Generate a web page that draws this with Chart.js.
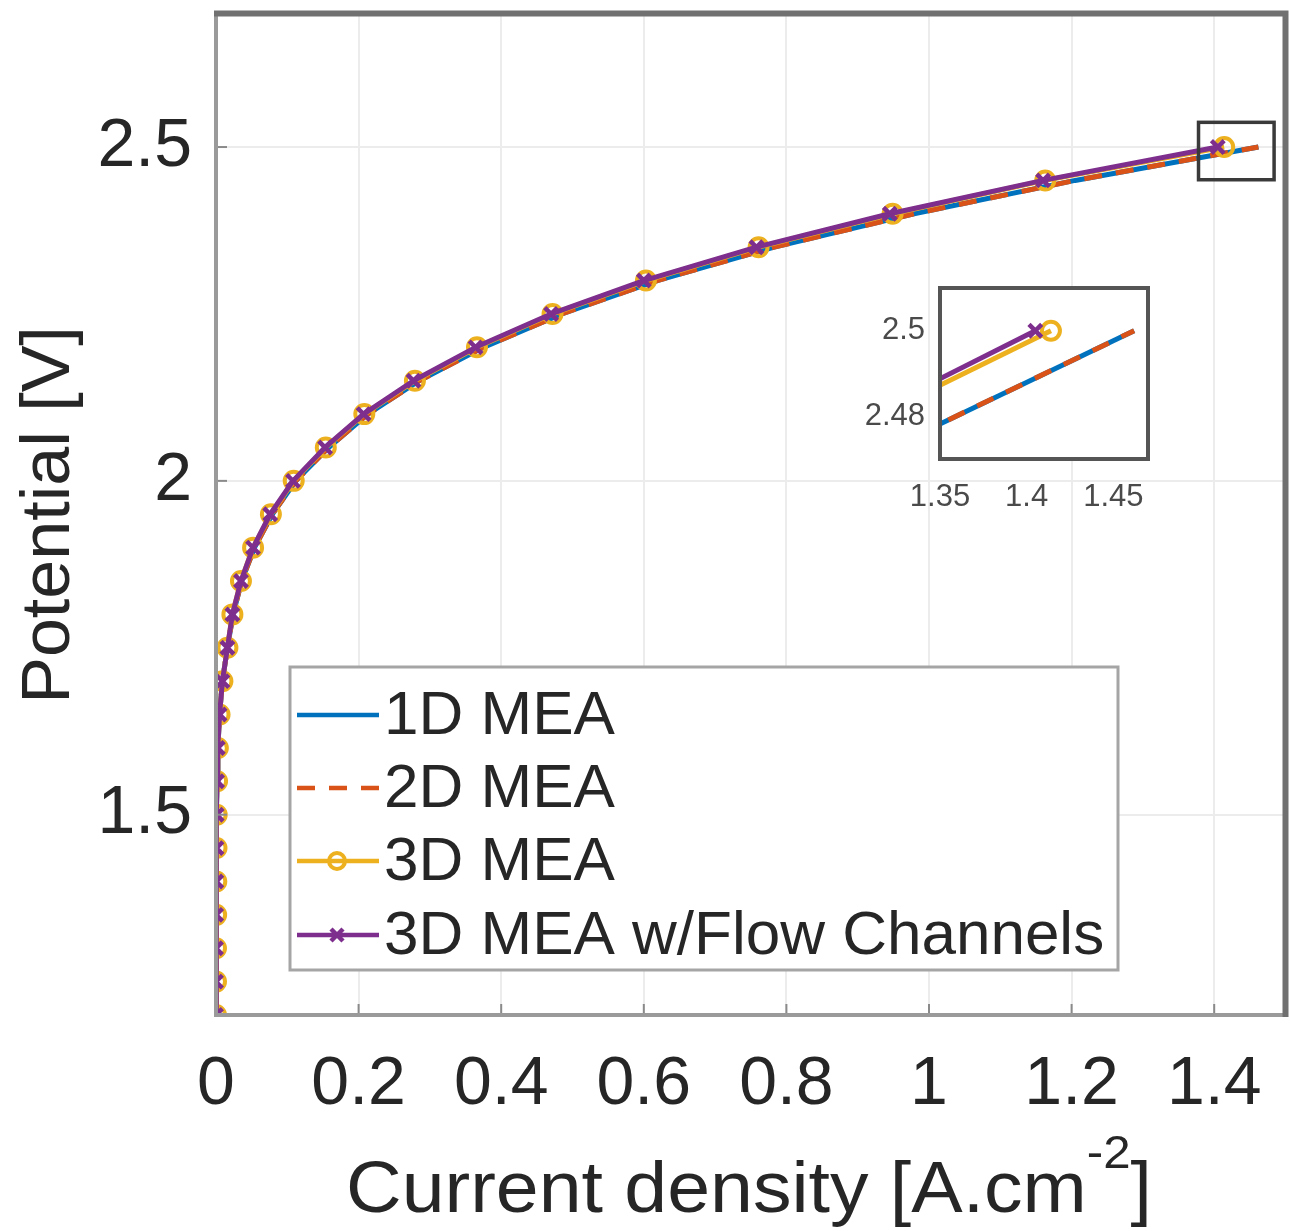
<!DOCTYPE html>
<html><head><meta charset="utf-8">
<script src="https://cdn.jsdelivr.net/npm/chart.js@4.4.0/dist/chart.umd.min.js"></script>
<style>
html,body{margin:0;padding:0;background:#fff;}
#wrap{position:relative;width:1290px;height:1231px;overflow:hidden;}
#main{position:absolute;left:0;top:0;}
#inset{position:absolute;left:830px;top:270px;}
</style></head><body>
<div id="wrap"><canvas id="main" width="1299" height="1231"></canvas><canvas id="inset" width="340" height="250"></canvas></div>
<script>
// ---------- data ----------
const potential = [1.20,1.25,1.30,1.35,1.40,1.45,1.50,1.55,1.60,1.65,1.70,1.75,1.80,1.85,1.90,1.95,2.00,2.05,2.10,2.15,2.20,2.25,2.30,2.35,2.40,2.45,2.50];
const j1D     = [0,0,0,0.0002,0.0004,0.0007,0.001,0.0016,0.0027,0.005,0.009,0.016,0.024,0.036,0.054,0.079,0.112,0.158,0.213,0.285,0.375,0.485,0.619,0.783,0.979,1.205,1.462];
const j2D     = [0,0,0,0.0002,0.0004,0.0007,0.001,0.0016,0.0027,0.005,0.009,0.016,0.024,0.036,0.054,0.079,0.112,0.158,0.213,0.285,0.375,0.485,0.619,0.783,0.979,1.205,1.462];
const j3D     = [0,0,0,0.0002,0.0004,0.0007,0.001,0.0015,0.0026,0.005,0.009,0.016,0.023,0.035,0.052,0.077,0.109,0.154,0.208,0.279,0.366,0.472,0.603,0.761,0.949,1.163,1.414];
const j3DFlow = [0,0,0,0.0002,0.0004,0.0007,0.001,0.0015,0.0025,0.005,0.009,0.016,0.023,0.035,0.052,0.076,0.108,0.153,0.207,0.277,0.364,0.470,0.600,0.758,0.945,1.160,1.405];
const seriesNames = ['1D MEA','2D MEA','3D MEA','3D MEA w/Flow Channels'];

const xTicks = [0,0.2,0.4,0.6,0.8,1,1.2,1.4];
const xTickLabels = ['0','0.2','0.4','0.6','0.8','1','1.2','1.4'];
const yTicks = [1.5,2,2.5];
const yTickLabels = ['1.5','2','2.5'];
const xRange = [0,1.5];
const yRange = [1.2,2.7];

const insetXTicks = [1.35,1.4,1.45];
const insetXTickLabels = ['1.35','1.4','1.45'];
const insetYTicks = [2.48,2.5];
const insetYTickLabels = ['2.48','2.5'];
const insetXRange = [1.35,1.47];
const insetYRange = [2.47,2.51];

const zoomBoxX = [1.378,1.484];
const zoomBoxY = [2.451,2.537];

// ---------- styling ----------
const FONT = "'Liberation Sans', Arial, Helvetica, sans-serif";
const TXT = '#262626';
const C1 = '#0072BD', C2 = '#D95319', C3 = '#EDB120', C4 = '#7E2F8E';

function pts(ys){ return potential.map((v,i)=>({x:ys[i], y:v})); }

function makeDatasets(){
  return [
    {label:seriesNames[0], data:pts(j1D), borderColor:C1, backgroundColor:C1, borderWidth:5, pointRadius:0, order:4, tension:0},
    {label:seriesNames[1], data:pts(j2D), borderColor:C2, backgroundColor:C2, borderWidth:5, borderDash:[18,14], pointRadius:0, order:3, tension:0},
    {label:seriesNames[2], data:pts(j3D), borderColor:C3, backgroundColor:'rgba(0,0,0,0)', borderWidth:5, pointStyle:'circle', pointRadius:9, pointBorderWidth:4, pointBorderColor:C3, pointBackgroundColor:'rgba(0,0,0,0)', order:2, tension:0},
    {label:seriesNames[3], data:pts(j3DFlow), borderColor:C4, backgroundColor:C4, borderWidth:5, pointStyle:'crossRot', pointRadius:9, pointBorderWidth:4.5, pointBorderColor:C4, order:1, tension:0}
  ];
}

const mainDecor = {
  id:'mainDecor',
  beforeDraw(chart){
    const ctx = chart.ctx;
    ctx.save(); ctx.fillStyle='#fff'; ctx.fillRect(0,0,chart.width,chart.height); ctx.restore();
  },
  afterDraw(chart){
    const ctx = chart.ctx, a = chart.chartArea;
    const xs = chart.scales.x, ys = chart.scales.y;
    ctx.save();
    // inward tick marks
    ctx.strokeStyle='#8a8a8a'; ctx.lineWidth=2;
    xTicks.forEach(v=>{ const px=xs.getPixelForValue(v); ctx.beginPath(); ctx.moveTo(px,a.bottom); ctx.lineTo(px,a.bottom-11); ctx.stroke(); });
    yTicks.forEach(v=>{ const py=ys.getPixelForValue(v); ctx.beginPath(); ctx.moveTo(a.left,py); ctx.lineTo(a.left+11,py); ctx.stroke(); });
    // axes frame
    ctx.lineCap='butt';
    ctx.strokeStyle='#9a9a9a'; ctx.lineWidth=4;
    ctx.beginPath(); ctx.moveTo(a.left,a.top); ctx.lineTo(a.left,a.bottom); ctx.lineTo(a.right,a.bottom); ctx.stroke();
    ctx.strokeStyle='#707070'; ctx.lineWidth=6;
    ctx.beginPath(); ctx.moveTo(a.left-2,a.top); ctx.lineTo(a.right,a.top); ctx.lineTo(a.right,a.bottom+2); ctx.stroke();
    // zoom box
    const bx0=xs.getPixelForValue(zoomBoxX[0]), bx1=xs.getPixelForValue(zoomBoxX[1]);
    const by0=ys.getPixelForValue(zoomBoxY[1]), by1=ys.getPixelForValue(zoomBoxY[0]);
    ctx.strokeStyle='#3a3a3a'; ctx.lineWidth=3.5;
    ctx.strokeRect(bx0,by0,bx1-bx0,by1-by0);
    // legend
    const L={x:290,y:667,w:828,h:303};
    ctx.fillStyle='#fff'; ctx.fillRect(L.x,L.y,L.w,L.h);
    ctx.strokeStyle='#a5a5a5'; ctx.lineWidth=3; ctx.strokeRect(L.x,L.y,L.w,L.h);
    const rows=[715,788,861,935];
    const ds=chart.data.datasets;
    rows.forEach((ry,i)=>{
      const d=ds[i];
      ctx.strokeStyle=d.borderColor; ctx.lineWidth=4.5;
      ctx.setLineDash(d.borderDash||[]);
      ctx.beginPath(); ctx.moveTo(297,ry); ctx.lineTo(379,ry); ctx.stroke();
      ctx.setLineDash([]);
      const mx=337;
      if(d.pointStyle==='circle'){ ctx.lineWidth=4; ctx.beginPath(); ctx.arc(mx,ry,8,0,Math.PI*2); ctx.stroke(); }
      if(d.pointStyle==='crossRot'){ ctx.lineWidth=4.5; ctx.beginPath(); ctx.moveTo(mx-6,ry-6); ctx.lineTo(mx+6,ry+6); ctx.moveTo(mx+6,ry-6); ctx.lineTo(mx-6,ry+6); ctx.stroke(); }
      ctx.fillStyle=TXT; ctx.font='62px '+FONT; ctx.textBaseline='middle'; ctx.textAlign='left';
      ctx.fillText(seriesNames[i],384,ry+2);
    });
    // axis titles
    ctx.fillStyle=TXT;
    ctx.save();
    ctx.translate(50,515); ctx.rotate(-Math.PI/2); ctx.scale(1.03,1);
    ctx.font='68px '+FONT; ctx.textAlign='center'; ctx.textBaseline='middle';
    ctx.fillText('Potential [V]',0,0);
    ctx.restore();
    ctx.save();
    const sxScale=1.07, cx=749;
    ctx.translate(cx,0); ctx.scale(sxScale,1);
    ctx.font='72px '+FONT; ctx.textBaseline='alphabetic'; ctx.textAlign='left';
    const t1='Current density [A.cm', t2='-2', t3=']';
    const w1=ctx.measureText(t1).width;
    ctx.font='46px '+FONT; const w2=ctx.measureText(t2).width;
    ctx.font='72px '+FONT; const w3=ctx.measureText(t3).width;
    let sx=-(w1+w2+w3)/2; const base=1212;
    ctx.fillText(t1,sx,base);
    ctx.font='46px '+FONT; ctx.fillText(t2,sx+w1,base-44);
    ctx.font='72px '+FONT; ctx.fillText(t3,sx+w1+w2,base);
    ctx.restore();
    ctx.restore();
  }
};

new Chart(document.getElementById('main'),{
  type:'line',
  data:{datasets:makeDatasets()},
  options:{
    responsive:false, animation:false, devicePixelRatio:1,
    layout:{padding:{top:13,right:0,left:0,bottom:0}},
    plugins:{legend:{display:false},tooltip:{enabled:false}},
    elements:{line:{borderCapStyle:'butt',borderJoinStyle:'round'}},
    scales:{
      x:{type:'linear',min:xRange[0],max:xRange[1],
        afterFit(s){s.height=216; s.paddingLeft=0; s.paddingRight=0;},
        afterBuildTicks(s){s.ticks=xTicks.map(v=>({value:v}));},
        ticks:{callback:(v,i)=>xTickLabels[i],font:{family:FONT,size:68},color:TXT,padding:29,maxRotation:0,autoSkip:false},
        grid:{color:'#ececec',lineWidth:2,drawTicks:false},
        border:{display:false}},
      y:{type:'linear',min:yRange[0],max:yRange[1],
        afterFit(s){s.width=216; s.paddingTop=0; s.paddingBottom=0;},
        afterBuildTicks(s){s.ticks=yTicks.map(v=>({value:v}));},
        ticks:{callback:(v,i)=>yTickLabels[i],font:{family:FONT,size:68},color:TXT,padding:24,autoSkip:false},
        grid:{color:'#ececec',lineWidth:2,drawTicks:false},
        border:{display:false}}
    }
  },
  plugins:[mainDecor]
});

const insetDecor = {
  id:'insetDecor',
  beforeDatasetsDraw(chart){
    const ctx=chart.ctx,a=chart.chartArea;
    ctx.save(); ctx.fillStyle='#fff'; ctx.fillRect(a.left,a.top,a.right-a.left,a.bottom-a.top); ctx.restore();
  },
  afterDraw(chart){
    const ctx=chart.ctx,a=chart.chartArea;
    ctx.save(); ctx.strokeStyle='#555'; ctx.lineWidth=4;
    ctx.strokeRect(a.left,a.top,a.right-a.left,a.bottom-a.top); ctx.restore();
  }
};

new Chart(document.getElementById('inset'),{
  type:'line',
  data:{datasets:makeDatasets()},
  options:{
    responsive:false, animation:false, devicePixelRatio:1,
    layout:{padding:{top:18,right:22,left:0,bottom:0}},
    plugins:{legend:{display:false},tooltip:{enabled:false}},
    scales:{
      x:{type:'linear',min:insetXRange[0],max:insetXRange[1],
        afterFit(s){s.height=61; s.paddingLeft=0; s.paddingRight=0;},
        afterBuildTicks(s){s.ticks=insetXTicks.map(v=>({value:v}));},
        ticks:{callback:(v,i)=>insetXTickLabels[i],font:{family:FONT,size:31},color:'#4a4a4a',padding:20,maxRotation:0,autoSkip:false},
        grid:{display:false,drawTicks:false},border:{display:false}},
      y:{type:'linear',min:insetYRange[0],max:insetYRange[1],
        afterFit(s){s.width=110; s.paddingTop=0; s.paddingBottom=0;},
        afterBuildTicks(s){s.ticks=insetYTicks.map(v=>({value:v}));},
        ticks:{callback:(v,i)=>insetYTickLabels[i],font:{family:FONT,size:31},color:'#4a4a4a',padding:15,autoSkip:false},
        grid:{display:false,drawTicks:false},border:{display:false}}
    }
  },
  plugins:[insetDecor]
});
</script>
</body></html>
